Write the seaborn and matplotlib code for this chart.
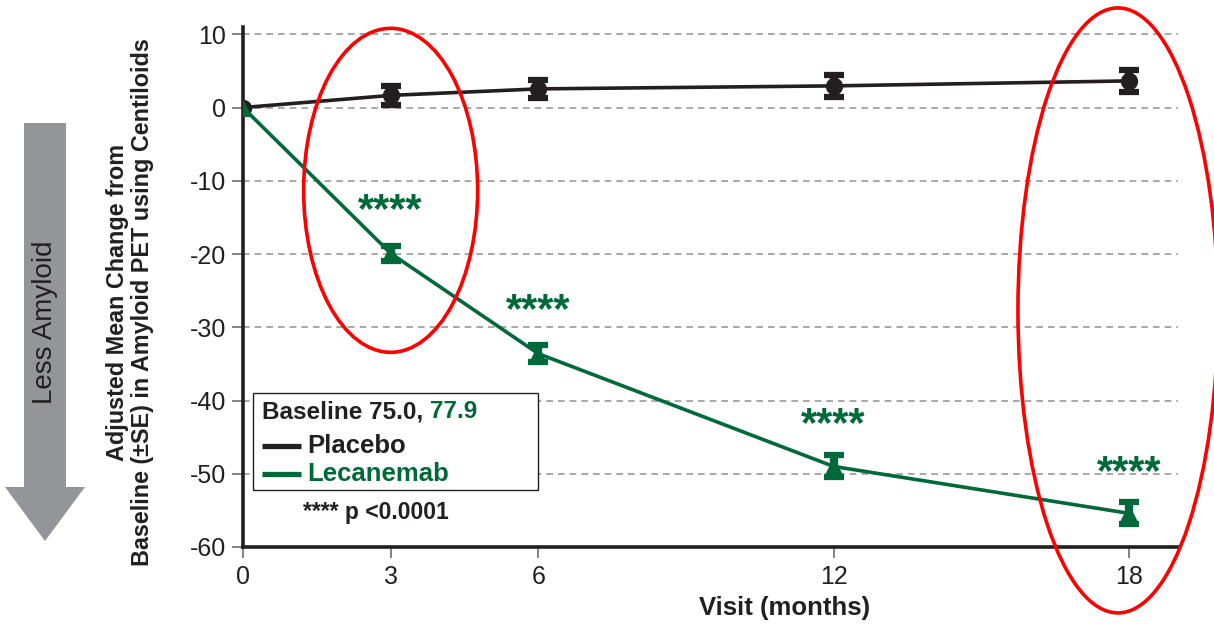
import matplotlib
matplotlib.use("Agg")
import matplotlib.pyplot as plt
from matplotlib.patches import Ellipse, Polygon, Rectangle
from matplotlib.lines import Line2D
import seaborn as sns
import pandas as pd

# ---- data ----
months = [0, 3, 6, 12, 18]
placebo = [0.0, 1.66, 2.55, 2.96, 3.64]
placebo_se = [0.0, 1.3, 1.2, 1.5, 1.5]
lecanemab = [0.0, -19.9, -33.6, -49.0, -55.4]
lecanemab_se = [0.0, 1.0, 1.2, 1.5, 1.5]
stars_months = [3, 6, 12, 18]
stars_y = [-14.1, -27.8, -43.3, -49.9]
yticks = [-60, -50, -40, -30, -20, -10, 0, 10]
xticks = [0, 3, 6, 12, 18]

BLACK = "#231F20"
GREEN = "#00693A"
RED = "#FF0000"
GRAY = "#939598"

sns.set_theme(style="white")
plt.rcParams["font.family"] = ["Liberation Sans", "DejaVu Sans"]

W, H = 1214, 625
fig = plt.figure(figsize=(W / 100, H / 100), dpi=100)
AX_L, AX_R, AX_B, AX_T = 243, 1178, 547, 27
ax = fig.add_axes([AX_L / W, 1 - AX_B / H, (AX_R - AX_L) / W, (AX_B - AX_T) / H])


def axpt(px, py):
    return ((px - AX_L) / (AX_R - AX_L), (AX_B - py) / (AX_B - AX_T))


def figpt(px, py):
    return (px / W, 1 - py / H)


df = pd.DataFrame({
    "month": months * 2,
    "value": placebo + lecanemab,
    "group": ["Placebo"] * len(months) + ["Lecanemab"] * len(months),
})

sns.lineplot(data=df, x="month", y="value", hue="group", style="group",
             palette={"Placebo": BLACK, "Lecanemab": GREEN},
             markers={"Placebo": "o", "Lecanemab": "^"},
             dashes={"Placebo": "", "Lecanemab": ""},
             linewidth=2.6, markersize=12.5, markeredgewidth=0,
             legend=False, ax=ax, zorder=4)

# error bars (post-baseline only)
ax.errorbar(months[1:], placebo[1:], yerr=placebo_se[1:], fmt="none",
            ecolor=BLACK, elinewidth=6, capsize=7.4, capthick=4.5, zorder=5)
ax.errorbar(months[1:], lecanemab[1:], yerr=lecanemab_se[1:], fmt="none",
            ecolor=GREEN, elinewidth=6, capsize=7.4, capthick=4.5, zorder=5)

# significance stars
for xm, ys in zip(stars_months, stars_y):
    ax.text(xm, ys, "****", color=GREEN, fontsize=30, fontweight="bold",
            ha="center", va="center", zorder=6)

ax.set_xlim(0, 19)
ax.set_ylim(-60, 11)
ax.set_xticks(xticks)
ax.set_xticklabels([str(t) for t in xticks])
ax.set_yticks(yticks)
ax.set_yticklabels([str(t) for t in yticks])
ax.set_xlabel("")
ax.set_ylabel("")

ax.yaxis.grid(True, linestyle=(0, (4, 3)), color="#9a9a9a", linewidth=1.2)
ax.xaxis.grid(False)
for s in ["top", "right"]:
    ax.spines[s].set_visible(False)
for s in ["left", "bottom"]:
    ax.spines[s].set_color(BLACK)
    ax.spines[s].set_linewidth(2.6)
ax.tick_params(axis="both", direction="out", length=8, width=1.2,
               color="#6d6e71", labelsize=18, labelcolor=BLACK)
ax.tick_params(axis="y", pad=4)
ax.tick_params(axis="x", pad=5)
ax.tick_params(left=True, bottom=True)

# red highlight ellipses (annotations)
px_per_month = (AX_R - AX_L) / 19
px_per_unit = (AX_B - AX_T) / 71
ax.add_patch(Ellipse((3.0, -11.3), 174 / px_per_month, 324 / px_per_unit,
                     fill=False, edgecolor=RED, linewidth=2.6, clip_on=False, zorder=7))
ax.add_patch(Ellipse((17.78, -27.7), 200 / px_per_month, 605 / px_per_unit,
                     fill=False, edgecolor=RED, linewidth=2.6, clip_on=False, zorder=7))

# legend box (manual)
x0, y0 = axpt(253, 490)
x1, y1 = axpt(538, 393)
ax.add_patch(Rectangle((x0, y0), x1 - x0, y1 - y0, transform=ax.transAxes,
                       facecolor="white", edgecolor=BLACK, linewidth=1.0, zorder=8))
t = ax.text(*axpt(262, 412), "Baseline 75.0, ", transform=ax.transAxes,
            fontsize=17.5, fontweight="bold", color=BLACK, ha="left", va="center", zorder=9)
ax.annotate("77.9", xy=(1, 0), xycoords=t, ha="left", va="bottom",
            fontsize=17.5, fontweight="bold", color=GREEN, zorder=9)
for py, lab, col in [(446, "Placebo", BLACK), (474, "Lecanemab", GREEN)]:
    lx0, ly = axpt(262, py)
    lx1, _ = axpt(301, py)
    ax.add_line(Line2D([lx0, lx1], [ly, ly], transform=ax.transAxes, color=col,
                       linewidth=3.8, solid_capstyle="butt", zorder=9))
    ax.text(*axpt(307, py), lab, transform=ax.transAxes, fontsize=18.5,
            fontweight="bold", color=col, ha="left", va="center", zorder=9)
ax.text(*axpt(303, 513), "**** p <0.0001", transform=ax.transAxes, fontsize=16.5,
        fontweight="bold", color=BLACK, ha="left", va="center", zorder=9)

# axis titles
fig.text(*figpt(785, 608), "Visit (months)", fontsize=18.5, fontweight="bold",
         color=BLACK, ha="center", va="center")
fig.text(*figpt(130, 302),
         "Adjusted Mean Change from\nBaseline (\u00b1SE) in Amyloid PET using Centiloids",
         fontsize=16.8, fontweight="bold", color=BLACK, ha="center", va="center",
         rotation=90, multialignment="center", linespacing=1.1)

# "Less Amyloid" arrow
arrow_px = [(24, 123), (66, 123), (66, 487), (85, 487), (45, 541), (5, 487), (24, 487)]
fig.patches.append(Polygon([figpt(x, y) for x, y in arrow_px], closed=True,
                           transform=fig.transFigure, facecolor=GRAY, edgecolor="none"))
fig.text(*figpt(45, 322), "Less Amyloid", fontsize=20, color=BLACK,
         ha="center", va="center", rotation=90)

fig.savefig("out.png", dpi=100)
